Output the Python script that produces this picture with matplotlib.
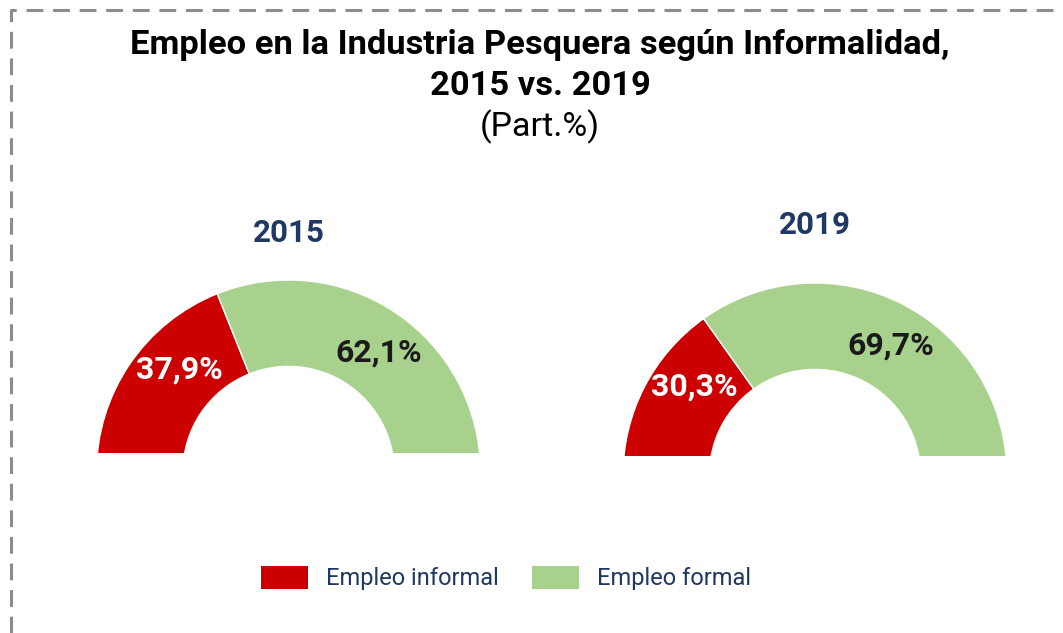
import matplotlib.pyplot as plt
from matplotlib.lines import Line2D
from matplotlib.patches import Rectangle
import numpy as np

# data
years = ["2015", "2019"]
informal = [37.9, 30.3]
formal = [62.1, 69.7]
series = ["Empleo informal", "Empleo formal"]

RED = "#CC0000"
GREEN = "#A9D18E"
NAVY = "#1F3864"

plt.rcParams['font.family'] = ['Roboto', 'DejaVu Sans']

W, H = 1063, 633
fig = plt.figure(figsize=(W / 100, H / 100), dpi=100)


def fmt(v):
    return f"{v:.1f}%".replace('.', ',')


def half_donut(cx, cy, year, inf, form, year_y):
    """Half donut centred at pixel (cx, cy), image coords (y down)."""
    R = 192      # outer radius in px
    d = 19       # flat bottom sits this far above the centre
    ax = fig.add_axes([(cx - R) / W, (H - (cy - d)) / H, 2 * R / W, (R - d) / H])
    wedges, _ = ax.pie([inf, form, inf + form], colors=[RED, GREEN, 'none'],
                       startangle=180, counterclock=False, radius=1,
                       wedgeprops=dict(width=0.45, edgecolor='white', linewidth=1))
    for w in wedges:
        w.set_clip_on(True)
    ax.set_xlim(-1, 1)
    ax.set_ylim(d / R, 1)
    ax.set_aspect('auto')
    ax.axis('off')

    # labels, slightly rotated from the wedge mid angle
    split = 180 - inf / (inf + form) * 180
    mids = [(180 + split) / 2 - 9, split / 2 - 3]
    for ang, v, col in zip(mids, [inf, form], ['white', '#1a1a1a']):
        a = np.deg2rad(ang)
        ax.text(0.78 * np.cos(a), 0.78 * np.sin(a), fmt(v), ha='center', va='center',
                fontsize=23, fontweight='bold', color=col)

    fig.text(cx / W, 1 - year_y / H, year, ha='center', va='center',
             fontsize=22.5, fontweight='bold', color=NAVY)


half_donut(288.5, 472, years[0], informal[0], formal[0], 233)
half_donut(815, 475, years[1], informal[1], formal[1], 225)

# title
fig.text(540 / W, 1 - 45 / H, "Empleo en la Industria Pesquera según Informalidad,",
         ha='center', va='center', fontsize=24.8, fontweight='bold', color='black')
fig.text(540 / W, 1 - 86 / H, "2015 vs. 2019",
         ha='center', va='center', fontsize=24.8, fontweight='bold', color='black')
fig.text(540 / W, 1 - 127 / H, "(Part.%)",
         ha='center', va='center', fontsize=24.5, color='black')

# legend
handles = [Rectangle((0, 0), 1, 1, facecolor=c, edgecolor='none') for c in (RED, GREEN)]
leg = fig.legend(handles, series, loc='center', bbox_to_anchor=(506 / W, 1 - 578 / H),
                 ncol=2, frameon=False, fontsize=17, handlelength=2.0, handleheight=1.15,
                 handletextpad=0.76, columnspacing=1.4)
for t in leg.get_texts():
    t.set_color(NAVY)

# dashed frame (left and top edges visible)
fig.add_artist(Line2D([11 / W, 11 / W, 1.0], [0.0, 1 - 10 / H, 1 - 10 / H],
                      transform=fig.transFigure, color='#8c8c8c', linewidth=2.2,
                      linestyle=(0, (5.5, 3.2))))

fig.savefig('out.png', dpi=100, facecolor='white')
